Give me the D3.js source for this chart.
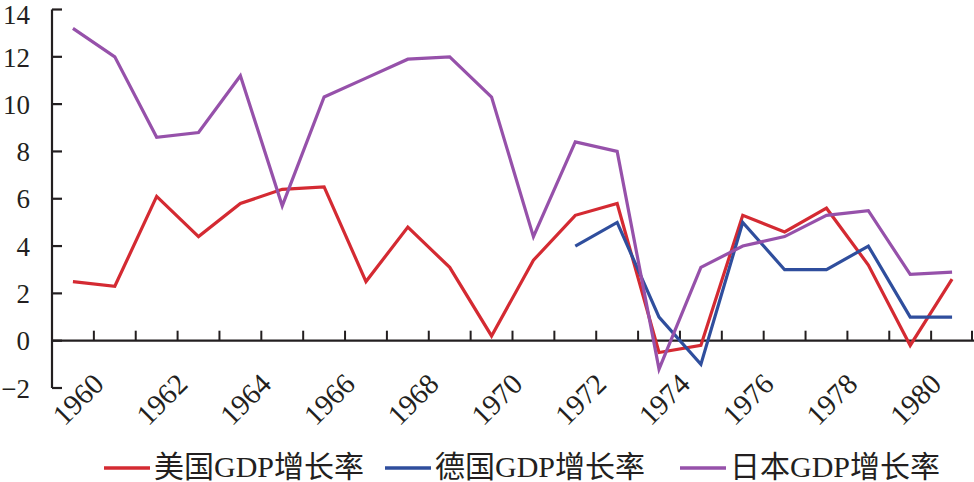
<!DOCTYPE html>
<html>
<head>
<meta charset="utf-8">
<script src="https://cdn.jsdelivr.net/npm/d3@7"></script>
<style>
  html, body { margin: 0; padding: 0; background: #fff; }
  svg { display: block; }
</style>
</head>
<body>
<svg id="chart" width="974" height="482"></svg>
<script>
const years = d3.range(1960, 1982);
const usGrowth = [2.5, 2.3, 6.1, 4.4, 5.8, 6.4, 6.5, 2.5, 4.8, 3.1, 0.2, 3.4, 5.3, 5.8, -0.5, -0.2, 5.3, 4.6, 5.6, 3.2, -0.2, 2.6];
const deGrowth = [null, null, null, null, null, null, null, null, null, null, null, null, 4.0, 5.0, 1.0, -1.0, 5.0, 3.0, 3.0, 4.0, 1.0, 1.0];
const jpGrowth = [13.2, 12.0, 8.6, 8.8, 11.2, 5.7, 10.3, 11.1, 11.9, 12.0, 10.3, 4.4, 8.4, 8.0, -1.2, 3.1, 4.0, 4.4, 5.3, 5.5, 2.8, 2.9];
const yTicks = [-2, 0, 2, 4, 6, 8, 10, 12, 14];
const xLabelYears = [1960, 1962, 1964, 1966, 1968, 1970, 1972, 1974, 1976, 1978, 1980];
const seriesNames = ["美国GDP增长率", "德国GDP增长率", "日本GDP增长率"];
const seriesColors = ["#d42a32", "#2f4e9d", "#9651aa"];
const seriesValues = [usGrowth, deGrowth, jpGrowth];

const svg = d3.select("#chart");
const axisColor = "#231f20";
const numFont = "'Liberation Serif', 'Times New Roman', serif";

const x = d3.scaleBand().domain(years).range([52, 973]).padding(0);
const y = d3.scaleLinear().domain([-2, 14]).range([388, 9.5]);
const cx = d => x(d) + x.bandwidth() / 2;

// Y axis
svg.append("line").attr("x1", 52).attr("x2", 52).attr("y1", y(14)).attr("y2", y(-2))
  .attr("stroke", axisColor).attr("stroke-width", 2.2);
svg.selectAll(".ytick").data(yTicks).enter().append("line")
  .attr("x1", 52).attr("x2", 62).attr("y1", d => y(d)).attr("y2", d => y(d))
  .attr("stroke", axisColor).attr("stroke-width", 2.2);
svg.selectAll(".ylab").data(yTicks).enter().append("text")
  .attr("x", 30).attr("y", d => Math.max(y(d), 14)).attr("dy", "0.36em")
  .attr("text-anchor", "end").attr("font-family", numFont).attr("font-size", 27)
  .attr("fill", axisColor)
  .text(d => d < 0 ? "\u2212" + Math.abs(d) : d);

// X axis at 0
svg.append("line").attr("x1", 52).attr("x2", 974).attr("y1", y(0)).attr("y2", y(0))
  .attr("stroke", axisColor).attr("stroke-width", 2.2);
const boundaries = years.map(d => x(d) + x.bandwidth()).filter(v => v > 53);
svg.selectAll(".xtick").data(boundaries).enter().append("line")
  .attr("x1", d => Math.min(d, 972)).attr("x2", d => Math.min(d, 972))
  .attr("y1", y(0)).attr("y2", y(0) - 10)
  .attr("stroke", axisColor).attr("stroke-width", 2);
svg.selectAll(".xlab").data(xLabelYears).enter().append("text")
  .attr("transform", d => `translate(${cx(d) + 5},${399}) rotate(-45)`)
  .attr("text-anchor", "middle").attr("dy", "0.35em")
  .attr("font-family", numFont).attr("font-size", 29).attr("fill", axisColor)
  .text(d => d);

// Lines
const line = d3.line()
  .defined(d => d.v !== null)
  .x(d => cx(d.year)).y(d => y(d.v));
seriesValues.forEach((vals, i) => {
  const pts = years.map((yr, j) => ({ year: yr, v: vals[j] }));
  svg.append("path").datum(pts)
    .attr("d", line)
    .attr("fill", "none").attr("stroke", seriesColors[i])
    .attr("stroke-width", 3.2).attr("stroke-linejoin", "miter");
});

// Legend
const legendX = [104, 385, 680];
seriesNames.forEach((name, i) => {
  const g = svg.append("g").attr("transform", `translate(${legendX[i]},468)`);
  g.append("line").attr("x1", 0).attr("x2", 46).attr("y1", 0).attr("y2", 0)
    .attr("stroke", seriesColors[i]).attr("stroke-width", 3.5);
  g.append("text").attr("x", 50).attr("y", 9)
    .attr("font-family", "'Liberation Serif', 'Noto Sans CJK SC', serif")
    .attr("font-size", 30).attr("fill", axisColor)
    .text(name);
});
</script>
</body>
</html>
